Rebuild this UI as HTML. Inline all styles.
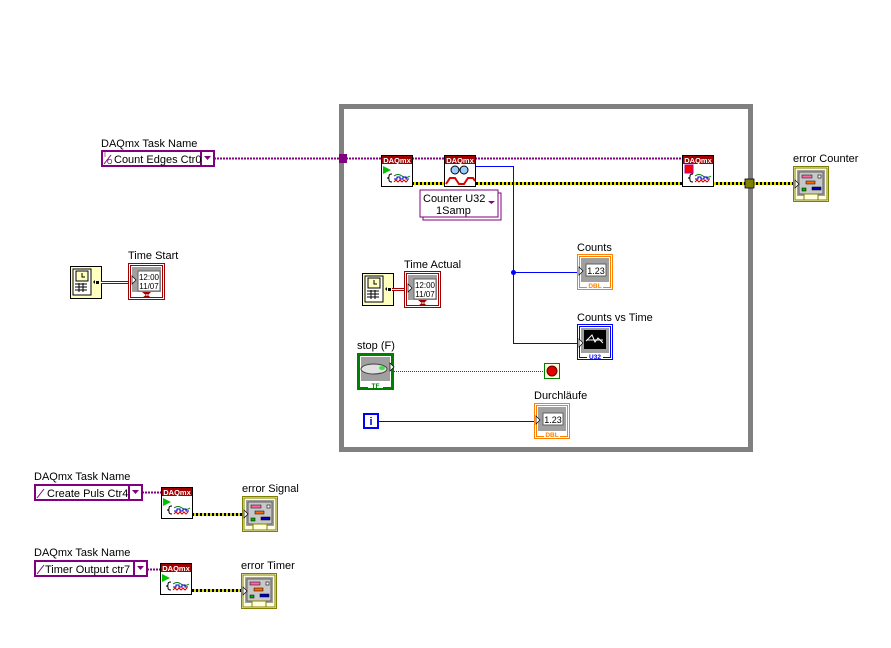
<!DOCTYPE html>
<html><head><meta charset="utf-8"><style>
html,body{margin:0;padding:0;background:#fff;}
svg{display:block;font-family:"Liberation Sans",sans-serif;}
</style></head><body>
<svg width="891" height="648" viewBox="0 0 891 648" xmlns="http://www.w3.org/2000/svg">
<defs>
<pattern id="ew" width="4" height="4" patternUnits="userSpaceOnUse"><rect width="4" height="4" fill="#e0e000"/><rect width="2" height="4" fill="#000"/></pattern>
<g id="daq">
 <rect x="0.5" y="0.5" width="31" height="31" fill="#fff" stroke="#000"/>
 <rect x="1" y="1" width="30" height="8" fill="#a00000"/>
 <text x="16" y="8" font-size="7.5" fill="#fff" text-anchor="middle" font-weight="bold">DAQmx</text>
 <path d="M11 19 q-3 0 -3 2 v1 q0 1 -2 1 q2 0 2 1 v1 q0 2 3 2" fill="none" stroke="#000"/>
 <path d="M13 21 q4 -3 8 0 q4 3 8 0" fill="none" stroke="#008000"/>
 <path d="M13 24 h3 v-2 h3 v2 h3 v-2 h3 v2 h3" fill="none" stroke="#0000c0"/>
 <path d="M13 27 l2 -2 l2 2 l2 -2 l2 2 l2 -2 l2 2 l2 -2" fill="none" stroke="#e00000"/>
</g>
<g id="err">
 <rect x="0.5" y="0.5" width="35" height="35" fill="#ffffe0" stroke="#808000" stroke-width="1"/>
 <rect x="2" y="2" width="32" height="32" fill="none" stroke="#808000"/>
 <rect x="4" y="4" width="28" height="26" fill="#a0a0a0"/>
 <rect x="6" y="6" width="24" height="22" fill="#c8c8c8" stroke="#606060"/>
 <rect x="9" y="9" width="10" height="3" fill="#ff66aa" stroke="#000" stroke-width=".5"/>
 <rect x="25" y="9" width="3" height="3" fill="#fff" stroke="#000" stroke-width=".6"/>
 <rect x="13" y="15" width="9" height="3" fill="#ff6600" stroke="#000" stroke-width=".5"/>
 <rect x="9" y="22" width="4" height="3" fill="#00b000" stroke="#000" stroke-width=".5"/>
 <rect x="19" y="21" width="9" height="3" fill="#0000c0" stroke="#000" stroke-width=".5"/>
 <rect x="11" y="28" width="14" height="6" fill="#ffffe0" stroke="#808000"/>
 <path d="M2 14 l4 4 l-4 4z" fill="#fff" stroke="#000" stroke-width=".7"/>
</g>
<g id="num">
 <rect x="0.5" y="0.5" width="35" height="35" fill="#fff" stroke="#ff8000"/>
 <rect x="2.5" y="2.5" width="31" height="31" fill="none" stroke="#ff8000"/>
 <rect x="4" y="4" width="28" height="24" fill="#a0a0a0"/>
 <rect x="9" y="10" width="20" height="12" fill="#fff" stroke="#606060"/>
 <text x="19" y="20" font-size="9" text-anchor="middle">1.23</text>
 <rect x="10" y="28" width="16" height="7" fill="#fff"/>
 <text x="18" y="34" font-size="6.5" fill="#ff8000" text-anchor="middle" font-weight="bold">DBL</text>
 <path d="M2 13 l4 4 l-4 4z" fill="#fff" stroke="#000" stroke-width=".7"/>
</g>
<g id="time">
 <rect x="0.5" y="0.5" width="36" height="36" fill="#fff" stroke="#a00000"/>
 <rect x="2.5" y="2.5" width="32" height="32" fill="none" stroke="#a00000"/>
 <rect x="4" y="4" width="29" height="25" fill="#a0a0a0"/>
 <rect x="10" y="8" width="22" height="20" fill="#fff" stroke="#606060"/>
 <text x="21" y="17" font-size="8" text-anchor="middle">12:00</text>
 <text x="21" y="26" font-size="8" text-anchor="middle">11/07</text>
 <path d="M14 29 h9 l-4 4 z M14 35 h9 l-4 -4z" fill="#a00000"/>
 <path d="M4 13 l4 4 l-4 4z" fill="#fff" stroke="#000" stroke-width=".7"/>
</g>
<g id="clock">
 <rect x="0.5" y="0.5" width="31" height="32" fill="#ffffc0" stroke="#000"/>
 <rect x="3" y="3" width="18" height="26" fill="#fff" stroke="#000"/>
 <rect x="6" y="5" width="12" height="10" fill="#ffffc0" stroke="#000"/>
 <path d="M12 7 v4 h3" stroke="#000" fill="none"/>
 <path d="M5 18 h12 M5 21 h12 M5 24 h12 M9 17 v9 M13 17 v9" stroke="#000"/>
 <path d="M23 16 l2 -2 v4z" fill="#000"/><rect x="26" y="15" width="3" height="3" fill="#000"/>
</g>
</defs>

<rect x="341.5" y="106.5" width="409" height="343" fill="none" stroke="#808080" stroke-width="5"/>

<text x="101" y="147" font-size="11">DAQmx Task Name</text>
<rect x="102" y="151" width="112" height="15" fill="#fff" stroke="#800080" stroke-width="2"/>
<line x1="201" y1="151" x2="201" y2="166" stroke="#800080" stroke-width="2"/>
<path d="M204 156 h7 l-3.5 4z" fill="#800080"/>
<text x="104" y="157" font-size="7" fill="#800080">I</text><text x="107" y="164" font-size="7" fill="#800080">O</text>
<path d="M104 164 l7 -9" stroke="#800080"/>
<text x="114" y="163" font-size="11">Count Edges Ctr0</text>
<line x1="214" y1="158.5" x2="682" y2="158.5" stroke="#800080" stroke-width="2" stroke-dasharray="2 1"/>
<rect x="339" y="154" width="8" height="9" fill="#800080"/>

<rect x="413" y="182" width="269" height="3" fill="url(#ew)"/>
<rect x="714" y="182" width="79" height="3" fill="url(#ew)"/>
<rect x="745" y="179" width="9" height="9" fill="#808000" stroke="#000" stroke-width=".8"/>

<use href="#daq" x="381" y="155"/>
<path d="M383 166 l8 4 l-8 4z" fill="#00c000"/>
<g transform="translate(444,155)">
 <rect x="0.5" y="0.5" width="31" height="31" fill="#fff" stroke="#000"/>
 <rect x="1" y="1" width="30" height="8" fill="#a00000"/>
 <text x="16" y="8" font-size="7.5" fill="#fff" text-anchor="middle" font-weight="bold">DAQmx</text>
 <circle cx="11" cy="15" r="4" fill="#9cf" stroke="#000"/><circle cx="20" cy="15" r="4" fill="#9cf" stroke="#000"/>
 <path d="M2 29 l4 -6 h5 l4 6 h5 l4 -6 h5 l2 3" fill="none" stroke="#e00000" stroke-width="2"/>
</g>
<use href="#daq" x="682" y="155"/>
<rect x="685" y="165" width="8" height="8" fill="#f00" stroke="#a0a" />
<use href="#err" x="793" y="166"/>
<text x="793" y="162" font-size="11">error Counter</text>

<rect x="423" y="193" width="78" height="27" fill="#fff" stroke="#800080"/>
<rect x="420" y="190" width="78" height="27" fill="#fff" stroke="#800080"/>
<text x="423" y="202" font-size="11">Counter U32</text>
<text x="436" y="214" font-size="11">1Samp</text>
<path d="M488 201 h7 l-3.5 3z" fill="#800080"/>

<path d="M476 166.5 H513.5 V343.5 H577 M513.5 272.5 H577" fill="none" stroke="#0000ff"/>
<circle cx="513.5" cy="272.5" r="2.5" fill="#0000ff"/>

<text x="577" y="251" font-size="11">Counts</text>
<use href="#num" x="577" y="254"/>
<text x="577" y="321" font-size="11">Counts vs Time</text>
<g transform="translate(577,324)">
 <rect x="0.5" y="0.5" width="35" height="35" fill="#fff" stroke="#0000ff"/>
 <rect x="2.5" y="2.5" width="31" height="31" fill="none" stroke="#0000ff"/>
 <rect x="4" y="4" width="28" height="25" fill="#a0a0a0"/>
 <rect x="7" y="6" width="22" height="19" fill="#000"/>
 <path d="M9 17 l6 -6 l3 7 l3 -4 l5 5 M10 16 h16" stroke="#fff" fill="none"/>
 <rect x="10" y="29" width="16" height="6" fill="#fff"/>
 <text x="18" y="35" font-size="6.5" fill="#0000ff" text-anchor="middle" font-weight="bold">U32</text>
 <path d="M2 15 l4 4 l-4 4z" fill="#fff" stroke="#000" stroke-width=".7"/>
</g>

<use href="#clock" x="362" y="273"/>
<rect x="392" y="288" width="12" height="3" fill="#a00000"/><rect x="392" y="289" width="12" height="1" fill="#fff"/>
<use href="#time" x="404" y="271"/>
<text x="404" y="268" font-size="11">Time Actual</text>

<use href="#clock" x="70" y="266"/>
<rect x="101" y="281" width="27" height="3" fill="#a00000"/><rect x="101" y="282" width="27" height="1" fill="#fff"/>
<use href="#time" x="128" y="263"/>
<text x="128" y="259" font-size="11">Time Start</text>

<text x="357" y="349" font-size="11">stop (F)</text>
<g transform="translate(357,353)">
 <rect x="0.5" y="0.5" width="36" height="36" fill="#fff" stroke="#008000"/>
 <rect x="2" y="2" width="33" height="33" fill="none" stroke="#008000" stroke-width="2"/>
 <rect x="4" y="4" width="29" height="24" fill="#a0a0a0"/>
 <ellipse cx="17" cy="16" rx="13" ry="5" fill="#e0e0e0" stroke="#404040"/>
 <ellipse cx="25" cy="15" rx="3" ry="2" fill="#40e040"/>
 <rect x="11" y="29" width="15" height="6" fill="#fff"/>
 <text x="18.5" y="35" font-size="6.5" fill="#008000" text-anchor="middle" font-weight="bold">TF</text>
 <path d="M33 10 l4 4 l-4 4z" fill="#fff" stroke="#000" stroke-width=".7"/>
</g>
<line x1="394" y1="371.5" x2="544" y2="371.5" stroke="#006000" stroke-dasharray="1 1"/>
<rect x="544.5" y="363.5" width="15" height="15" fill="#ffffe0" stroke="#008000"/>
<circle cx="552" cy="371" r="5" fill="#e00000" stroke="#600"/>

<rect x="364" y="414" width="14" height="14" fill="#fff" stroke="#0000ff" stroke-width="2"/>
<text x="371" y="425" font-size="11" fill="#0000c0" text-anchor="middle" font-weight="bold">i</text>
<line x1="379" y1="421.5" x2="536" y2="421.5" stroke="#0000ff"/>
<text x="534" y="399" font-size="11">Durchläufe</text>
<use href="#num" x="534" y="403"/>

<text x="34" y="480" font-size="11">DAQmx Task Name</text>
<rect x="35" y="485" width="107" height="15" fill="#fff" stroke="#800080" stroke-width="2"/>
<line x1="129" y1="485" x2="129" y2="500" stroke="#800080" stroke-width="2"/>
<path d="M132 490 h7 l-3.5 4z" fill="#800080"/>
<path d="M37 498 l7 -9" stroke="#800080"/>
<text x="47" y="497" font-size="11">Create Puls Ctr4</text>
<line x1="142" y1="492.5" x2="161" y2="492.5" stroke="#800080" stroke-width="2" stroke-dasharray="2 1"/>
<use href="#daq" x="161" y="487"/>
<path d="M163 498 l8 4 l-8 4z" fill="#00c000"/>
<rect x="193" y="513" width="49" height="3" fill="url(#ew)"/>
<text x="242" y="492" font-size="11">error Signal</text>
<use href="#err" x="242" y="496"/>

<text x="34" y="556" font-size="11">DAQmx Task Name</text>
<rect x="35" y="561" width="112" height="15" fill="#fff" stroke="#800080" stroke-width="2"/>
<line x1="134" y1="561" x2="134" y2="576" stroke="#800080" stroke-width="2"/>
<path d="M137 566 h7 l-3.5 4z" fill="#800080"/>
<path d="M37 574 l7 -9" stroke="#800080"/>
<text x="45" y="573" font-size="11">Timer Output ctr7</text>
<line x1="147" y1="569.5" x2="160" y2="569.5" stroke="#800080" stroke-width="2" stroke-dasharray="2 1"/>
<use href="#daq" x="160" y="563"/>
<path d="M162 574 l8 4 l-8 4z" fill="#00c000"/>
<rect x="192" y="589" width="49" height="3" fill="url(#ew)"/>
<text x="241" y="569" font-size="11">error Timer</text>
<use href="#err" x="241" y="573"/>
</svg>
</body></html>
